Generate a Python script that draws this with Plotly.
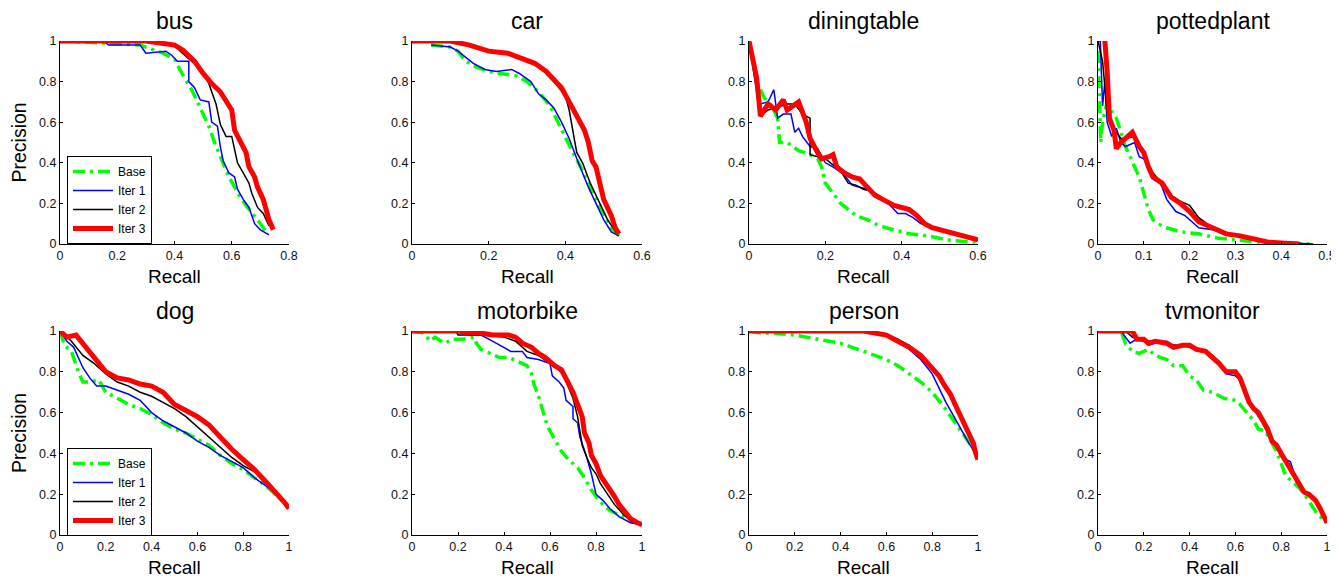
import plotly.graph_objects as go

W, H = 1339, 578
OFF = 8  # page body margin in the browser

classes = ["bus", "car", "diningtable", "pottedplant", "dog", "motorbike", "person", "tvmonitor"]
series_names = ["Base", "Iter 1", "Iter 2", "Iter 3"]
x_max = [0.8, 0.6, 0.6, 0.5, 1.0, 1.0, 1.0, 1.0]
x_dtick = [0.2, 0.2, 0.2, 0.1, 0.2, 0.2, 0.2, 0.2]
y_ticks = [0, 0.2, 0.4, 0.6, 0.8, 1]
y_ticklabels = ["0", "0.2", "0.4", "0.6", "0.8", "1"]

# ---- bus ----
bus_base_r = [0, 0.15, 0.28, 0.32, 0.36, 0.40, 0.43, 0.46, 0.49, 0.52, 0.54, 0.57, 0.59, 0.61, 0.63, 0.65, 0.68, 0.70, 0.72]
bus_base_p = [1, 0.99, 0.98, 0.96, 0.94, 0.91, 0.83, 0.76, 0.67, 0.58, 0.50, 0.40, 0.33, 0.28, 0.23, 0.19, 0.14, 0.10, 0.06]
bus_it1_r = [0, 0.15, 0.17, 0.28, 0.30, 0.37, 0.39, 0.41, 0.45, 0.45, 0.47, 0.49, 0.52, 0.53, 0.55, 0.56, 0.57, 0.59, 0.61, 0.62, 0.64, 0.66, 0.68, 0.70, 0.73]
bus_it1_p = [1, 1, 0.98, 0.98, 0.94, 0.95, 0.93, 0.90, 0.90, 0.80, 0.77, 0.71, 0.70, 0.60, 0.58, 0.48, 0.41, 0.35, 0.33, 0.27, 0.22, 0.18, 0.10, 0.07, 0.045]
bus_it2_r = [0, 0.28, 0.35, 0.40, 0.42, 0.46, 0.50, 0.52, 0.545, 0.56, 0.58, 0.60, 0.61, 0.62, 0.64, 0.66, 0.67, 0.69, 0.71, 0.73]
bus_it2_p = [1, 1, 0.99, 0.98, 0.95, 0.90, 0.85, 0.79, 0.69, 0.59, 0.53, 0.53, 0.46, 0.40, 0.35, 0.30, 0.25, 0.18, 0.15, 0.09]
bus_it3_r = [0, 0.30, 0.35, 0.40, 0.43, 0.47, 0.50, 0.53, 0.56, 0.58, 0.60, 0.61, 0.63, 0.65, 0.66, 0.68, 0.69, 0.71, 0.72, 0.73, 0.745]
bus_it3_p = [1, 1, 0.99, 0.98, 0.955, 0.90, 0.84, 0.79, 0.75, 0.71, 0.66, 0.56, 0.50, 0.45, 0.38, 0.33, 0.28, 0.22, 0.17, 0.12, 0.07]

# ---- car ----
car_base_r = [0.05, 0.10, 0.12, 0.14, 0.17, 0.20, 0.23, 0.27, 0.30, 0.33, 0.36, 0.38, 0.40, 0.42, 0.44, 0.46, 0.48, 0.50, 0.52, 0.54]
car_base_p = [0.98, 0.97, 0.95, 0.90, 0.87, 0.85, 0.84, 0.83, 0.80, 0.75, 0.68, 0.60, 0.52, 0.45, 0.38, 0.30, 0.22, 0.15, 0.08, 0.04]
car_it1_r = [0.05, 0.10, 0.12, 0.14, 0.16, 0.19, 0.22, 0.26, 0.28, 0.31, 0.33, 0.35, 0.37, 0.39, 0.41, 0.43, 0.445, 0.46, 0.48, 0.50, 0.52, 0.54]
car_it1_p = [0.98, 0.97, 0.95, 0.92, 0.89, 0.86, 0.85, 0.86, 0.84, 0.80, 0.74, 0.71, 0.67, 0.60, 0.52, 0.42, 0.35, 0.28, 0.20, 0.12, 0.06, 0.04]
car_it2_r = [0, 0.10, 0.15, 0.18, 0.20, 0.25, 0.28, 0.32, 0.35, 0.38, 0.40, 0.41, 0.415, 0.425, 0.43, 0.445, 0.455, 0.465, 0.49, 0.51, 0.535]
car_it2_p = [1, 1, 0.98, 0.96, 0.95, 0.94, 0.92, 0.89, 0.85, 0.78, 0.73, 0.66, 0.60, 0.50, 0.45, 0.40, 0.35, 0.30, 0.20, 0.12, 0.05]
car_it3_r = [0, 0.10, 0.15, 0.18, 0.20, 0.25, 0.28, 0.32, 0.35, 0.37, 0.39, 0.41, 0.43, 0.45, 0.46, 0.47, 0.48, 0.49, 0.50, 0.52, 0.53, 0.54]
car_it3_p = [1, 1, 0.98, 0.96, 0.95, 0.94, 0.92, 0.89, 0.85, 0.81, 0.77, 0.70, 0.63, 0.56, 0.50, 0.41, 0.38, 0.30, 0.22, 0.14, 0.08, 0.05]

# ---- diningtable ----
din_base_r = [0, 0.02, 0.04, 0.06, 0.075, 0.08, 0.10, 0.13, 0.16, 0.18, 0.19, 0.20, 0.22, 0.24, 0.26, 0.28, 0.31, 0.34, 0.38, 0.42, 0.47, 0.52, 0.58, 0.60]
din_base_p = [1, 0.80, 0.72, 0.68, 0.62, 0.50, 0.50, 0.46, 0.44, 0.42, 0.38, 0.30, 0.25, 0.20, 0.17, 0.14, 0.12, 0.09, 0.07, 0.05, 0.04, 0.02, 0.01, 0.01]
din_it1_r = [0, 0.02, 0.03, 0.05, 0.065, 0.075, 0.09, 0.11, 0.12, 0.13, 0.14, 0.16, 0.18, 0.20, 0.22, 0.25, 0.27, 0.29, 0.31, 0.34, 0.37, 0.39, 0.41, 0.43, 0.45, 0.48, 0.52, 0.56, 0.60]
din_it1_p = [1, 0.78, 0.69, 0.70, 0.76, 0.62, 0.64, 0.64, 0.55, 0.57, 0.53, 0.48, 0.47, 0.40, 0.38, 0.34, 0.29, 0.28, 0.27, 0.24, 0.19, 0.15, 0.15, 0.13, 0.10, 0.08, 0.06, 0.04, 0.02]
din_it2_r = [0, 0.02, 0.03, 0.05, 0.07, 0.10, 0.12, 0.14, 0.16, 0.16, 0.18, 0.20, 0.22, 0.24, 0.26, 0.28, 0.30, 0.32, 0.34, 0.37, 0.40, 0.43, 0.46, 0.50, 0.55, 0.60]
din_it2_p = [1, 0.75, 0.63, 0.66, 0.67, 0.69, 0.69, 0.64, 0.62, 0.44, 0.43, 0.42, 0.39, 0.36, 0.30, 0.29, 0.27, 0.26, 0.24, 0.20, 0.18, 0.15, 0.10, 0.07, 0.04, 0.02]
din_it3_r = [0, 0.02, 0.03, 0.05, 0.07, 0.09, 0.10, 0.12, 0.13, 0.15, 0.16, 0.18, 0.19, 0.21, 0.22, 0.23, 0.25, 0.27, 0.29, 0.31, 0.33, 0.36, 0.38, 0.40, 0.42, 0.44, 0.46, 0.48, 0.50, 0.53, 0.56, 0.60]
din_it3_p = [1, 0.82, 0.63, 0.69, 0.66, 0.71, 0.66, 0.69, 0.70, 0.60, 0.52, 0.45, 0.42, 0.43, 0.44, 0.38, 0.35, 0.33, 0.32, 0.28, 0.24, 0.21, 0.19, 0.18, 0.17, 0.14, 0.10, 0.08, 0.07, 0.05, 0.04, 0.02]

# ---- pottedplant ----
pot_base_r = [0, 0.003, 0.006, 0.01, 0.02, 0.03, 0.04, 0.05, 0.06, 0.07, 0.08, 0.09, 0.10, 0.11, 0.12, 0.13, 0.15, 0.18, 0.22, 0.26, 0.30, 0.35, 0.40, 0.47]
pot_base_p = [0.95, 0.70, 0.50, 0.60, 0.70, 0.65, 0.62, 0.55, 0.48, 0.43, 0.38, 0.33, 0.25, 0.17, 0.12, 0.10, 0.08, 0.06, 0.05, 0.03, 0.02, 0.01, 0.005, 0.0]
pot_it1_r = [0, 0.005, 0.01, 0.015, 0.02, 0.03, 0.04, 0.05, 0.06, 0.07, 0.08, 0.09, 0.10, 0.11, 0.13, 0.14, 0.15, 0.17, 0.19, 0.21, 0.22, 0.25, 0.28, 0.32, 0.36, 0.42, 0.47]
pot_it1_p = [1, 1, 0.68, 0.80, 0.60, 0.53, 0.57, 0.50, 0.48, 0.49, 0.50, 0.43, 0.42, 0.38, 0.32, 0.28, 0.22, 0.16, 0.14, 0.10, 0.08, 0.07, 0.05, 0.03, 0.01, 0.005, 0.0]
pot_it2_r = [0, 0.01, 0.02, 0.03, 0.04, 0.05, 0.06, 0.08, 0.09, 0.10, 0.12, 0.14, 0.16, 0.18, 0.20, 0.22, 0.25, 0.28, 0.32, 0.36, 0.42]
pot_it2_p = [1, 0.90, 0.65, 0.58, 0.55, 0.52, 0.52, 0.53, 0.50, 0.44, 0.35, 0.30, 0.24, 0.21, 0.19, 0.13, 0.08, 0.05, 0.03, 0.01, 0.0]
pot_it3_r = [0.01, 0.015, 0.02, 0.025, 0.035, 0.04, 0.05, 0.06, 0.075, 0.09, 0.10, 0.11, 0.12, 0.14, 0.15, 0.16, 0.18, 0.20, 0.22, 0.24, 0.26, 0.28, 0.31, 0.34, 0.37, 0.40, 0.44]
pot_it3_p = [1, 1, 0.85, 0.62, 0.56, 0.47, 0.50, 0.52, 0.55, 0.48, 0.45, 0.38, 0.33, 0.30, 0.27, 0.23, 0.20, 0.16, 0.11, 0.09, 0.07, 0.05, 0.04, 0.025, 0.01, 0.005, 0.0]

# ---- dog ----
dog_base_r = [0, 0.02, 0.05, 0.08, 0.10, 0.13, 0.17, 0.20, 0.25, 0.30, 0.35, 0.40, 0.45, 0.50, 0.55, 0.60, 0.65, 0.70, 0.75, 0.80, 0.85, 0.90, 0.95, 1.0]
dog_base_p = [1, 0.93, 0.90, 0.80, 0.75, 0.75, 0.76, 0.70, 0.67, 0.64, 0.62, 0.59, 0.55, 0.52, 0.50, 0.47, 0.44, 0.39, 0.35, 0.32, 0.28, 0.24, 0.19, 0.14]
dog_it1_r = [0, 0.03, 0.06, 0.10, 0.13, 0.16, 0.20, 0.25, 0.30, 0.35, 0.40, 0.45, 0.50, 0.55, 0.60, 0.65, 0.70, 0.75, 0.80, 0.85, 0.90, 0.95, 1.0]
dog_it1_p = [1, 0.95, 0.92, 0.82, 0.77, 0.73, 0.73, 0.71, 0.69, 0.66, 0.60, 0.56, 0.53, 0.50, 0.46, 0.43, 0.39, 0.36, 0.33, 0.28, 0.24, 0.20, 0.14]
dog_it2_r = [0, 0.05, 0.10, 0.15, 0.20, 0.25, 0.30, 0.35, 0.40, 0.45, 0.50, 0.55, 0.60, 0.65, 0.70, 0.75, 0.80, 0.85, 0.90, 0.95, 1.0]
dog_it2_p = [1, 0.95, 0.88, 0.84, 0.79, 0.75, 0.73, 0.70, 0.68, 0.65, 0.62, 0.58, 0.53, 0.48, 0.43, 0.38, 0.34, 0.31, 0.25, 0.20, 0.14]
dog_it3_r = [0, 0.03, 0.07, 0.10, 0.15, 0.20, 0.25, 0.30, 0.35, 0.40, 0.45, 0.50, 0.55, 0.60, 0.65, 0.70, 0.75, 0.80, 0.85, 0.90, 0.95, 0.98, 1.0]
dog_it3_p = [1, 0.97, 0.98, 0.94, 0.87, 0.80, 0.77, 0.76, 0.74, 0.73, 0.70, 0.64, 0.61, 0.58, 0.54, 0.48, 0.42, 0.37, 0.32, 0.26, 0.20, 0.16, 0.13]

# ---- motorbike ----
mot_base_r = [0, 0.05, 0.08, 0.10, 0.14, 0.18, 0.22, 0.27, 0.28, 0.30, 0.34, 0.38, 0.42, 0.46, 0.50, 0.52, 0.53, 0.55, 0.57, 0.59, 0.62, 0.65, 0.68, 0.72, 0.75, 0.78, 0.82, 0.86, 0.90, 0.95, 1.0]
mot_base_p = [1, 0.99, 0.95, 0.97, 0.94, 0.96, 0.96, 0.97, 0.94, 0.91, 0.89, 0.87, 0.87, 0.85, 0.83, 0.79, 0.74, 0.68, 0.60, 0.53, 0.47, 0.41, 0.37, 0.33, 0.28, 0.22, 0.16, 0.12, 0.10, 0.08, 0.05]
mot_it1_r = [0, 0.20, 0.25, 0.30, 0.35, 0.40, 0.43, 0.48, 0.50, 0.55, 0.60, 0.61, 0.64, 0.66, 0.67, 0.70, 0.70, 0.72, 0.73, 0.76, 0.78, 0.80, 0.83, 0.86, 0.90, 0.95, 1.0]
mot_it1_p = [1, 1, 0.98, 0.98, 0.95, 0.92, 0.90, 0.90, 0.87, 0.86, 0.84, 0.78, 0.75, 0.72, 0.66, 0.63, 0.57, 0.55, 0.48, 0.38, 0.30, 0.20, 0.17, 0.13, 0.09, 0.06, 0.05]
mot_it2_r = [0, 0.19, 0.20, 0.30, 0.40, 0.45, 0.50, 0.55, 0.60, 0.63, 0.66, 0.68, 0.70, 0.72, 0.73, 0.74, 0.76, 0.78, 0.80, 0.82, 0.85, 0.88, 0.92, 0.96, 1.0]
mot_it2_p = [1, 1, 0.98, 0.98, 0.97, 0.95, 0.90, 0.88, 0.84, 0.82, 0.78, 0.72, 0.67, 0.58, 0.50, 0.44, 0.38, 0.33, 0.30, 0.25, 0.20, 0.15, 0.10, 0.06, 0.05]
mot_it3_r = [0, 0.20, 0.25, 0.30, 0.35, 0.42, 0.45, 0.48, 0.52, 0.55, 0.58, 0.62, 0.65, 0.67, 0.69, 0.70, 0.72, 0.74, 0.75, 0.77, 0.78, 0.80, 0.82, 0.84, 0.86, 0.88, 0.90, 0.92, 0.95, 0.98, 1.0]
mot_it3_p = [1, 1, 0.99, 0.99, 0.98, 0.98, 0.97, 0.94, 0.92, 0.89, 0.87, 0.83, 0.81, 0.77, 0.73, 0.70, 0.64, 0.58, 0.50, 0.45, 0.39, 0.35, 0.29, 0.26, 0.22, 0.19, 0.15, 0.12, 0.08, 0.06, 0.05]

# ---- person ----
per_base_r = [0, 0.05, 0.10, 0.20, 0.30, 0.40, 0.45, 0.50, 0.55, 0.60, 0.65, 0.70, 0.75, 0.80, 0.85, 0.90, 0.95, 1.0]
per_base_p = [1, 0.99, 0.99, 0.98, 0.96, 0.94, 0.92, 0.90, 0.88, 0.86, 0.83, 0.79, 0.75, 0.70, 0.63, 0.55, 0.47, 0.39]
per_it1_r = [0, 0.50, 0.55, 0.60, 0.65, 0.70, 0.75, 0.80, 0.83, 0.86, 0.90, 0.93, 0.96, 1.0]
per_it1_p = [1, 1, 0.99, 0.98, 0.95, 0.91, 0.86, 0.79, 0.72, 0.65, 0.57, 0.51, 0.45, 0.38]
per_it2_r = [0, 0.50, 0.60, 0.65, 0.70, 0.75, 0.80, 0.85, 0.90, 0.95, 1.0]
per_it2_p = [1, 1, 0.98, 0.96, 0.93, 0.88, 0.82, 0.74, 0.64, 0.51, 0.38]
per_it3_r = [0, 0.50, 0.55, 0.60, 0.65, 0.70, 0.75, 0.80, 0.83, 0.85, 0.88, 0.90, 0.92, 0.94, 0.96, 0.98, 0.99, 1.0]
per_it3_p = [1, 1, 0.99, 0.98, 0.95, 0.92, 0.88, 0.82, 0.78, 0.74, 0.69, 0.64, 0.59, 0.54, 0.49, 0.45, 0.40, 0.37]

# ---- tvmonitor ----
tv_base_r = [0, 0.10, 0.12, 0.15, 0.18, 0.22, 0.25, 0.30, 0.33, 0.37, 0.40, 0.43, 0.46, 0.50, 0.55, 0.60, 0.62, 0.65, 0.68, 0.70, 0.73, 0.75, 0.78, 0.80, 0.82, 0.85, 0.88, 0.90, 0.93, 0.96, 1.0]
tv_base_p = [1, 1, 0.94, 0.90, 0.89, 0.91, 0.88, 0.86, 0.83, 0.83, 0.78, 0.76, 0.71, 0.70, 0.67, 0.66, 0.64, 0.60, 0.56, 0.52, 0.51, 0.47, 0.41, 0.35, 0.29, 0.26, 0.23, 0.20, 0.15, 0.10, 0.06]
tv_it1_r = [0, 0.10, 0.14, 0.17, 0.20, 0.22, 0.25, 0.30, 0.33, 0.37, 0.40, 0.43, 0.47, 0.50, 0.53, 0.56, 0.60, 0.62, 0.64, 0.66, 0.68, 0.70, 0.72, 0.74, 0.76, 0.78, 0.80, 0.82, 0.84, 0.86, 0.88, 0.90, 0.92, 0.95, 0.97, 1.0]
tv_it1_p = [1, 1, 0.94, 0.96, 0.95, 0.93, 0.94, 0.95, 0.93, 0.93, 0.92, 0.91, 0.90, 0.87, 0.84, 0.79, 0.78, 0.76, 0.70, 0.66, 0.62, 0.58, 0.55, 0.50, 0.47, 0.44, 0.40, 0.37, 0.36, 0.29, 0.24, 0.21, 0.20, 0.17, 0.12, 0.06]
tv_it2_r = [0, 0.12, 0.15, 0.17, 0.20, 0.25, 0.30, 0.33, 0.37, 0.40, 0.43, 0.47, 0.50, 0.53, 0.56, 0.60, 0.62, 0.64, 0.66, 0.68, 0.70, 0.72, 0.74, 0.76, 0.78, 0.80, 0.82, 0.84, 0.86, 0.88, 0.90, 0.92, 0.95, 0.97, 1.0]
tv_it2_p = [1, 1, 0.97, 0.96, 0.95, 0.95, 0.94, 0.93, 0.93, 0.93, 0.91, 0.90, 0.88, 0.85, 0.80, 0.79, 0.77, 0.71, 0.66, 0.62, 0.59, 0.55, 0.51, 0.46, 0.44, 0.40, 0.36, 0.34, 0.28, 0.24, 0.21, 0.20, 0.17, 0.13, 0.06]
tv_it3_r = [0, 0.15, 0.17, 0.20, 0.22, 0.25, 0.30, 0.33, 0.37, 0.40, 0.43, 0.47, 0.50, 0.53, 0.56, 0.60, 0.62, 0.64, 0.66, 0.68, 0.70, 0.72, 0.74, 0.76, 0.78, 0.80, 0.82, 0.84, 0.86, 0.88, 0.90, 0.92, 0.95, 0.97, 0.99, 1.0]
tv_it3_p = [1, 1, 0.96, 0.96, 0.94, 0.95, 0.94, 0.92, 0.93, 0.93, 0.91, 0.90, 0.87, 0.84, 0.80, 0.80, 0.77, 0.70, 0.65, 0.62, 0.60, 0.56, 0.52, 0.46, 0.44, 0.40, 0.36, 0.33, 0.28, 0.24, 0.21, 0.20, 0.17, 0.13, 0.09, 0.06]

panel_data = [
    [(bus_base_r, bus_base_p), (bus_it1_r, bus_it1_p), (bus_it2_r, bus_it2_p), (bus_it3_r, bus_it3_p)],
    [(car_base_r, car_base_p), (car_it1_r, car_it1_p), (car_it2_r, car_it2_p), (car_it3_r, car_it3_p)],
    [(din_base_r, din_base_p), (din_it1_r, din_it1_p), (din_it2_r, din_it2_p), (din_it3_r, din_it3_p)],
    [(pot_base_r, pot_base_p), (pot_it1_r, pot_it1_p), (pot_it2_r, pot_it2_p), (pot_it3_r, pot_it3_p)],
    [(dog_base_r, dog_base_p), (dog_it1_r, dog_it1_p), (dog_it2_r, dog_it2_p), (dog_it3_r, dog_it3_p)],
    [(mot_base_r, mot_base_p), (mot_it1_r, mot_it1_p), (mot_it2_r, mot_it2_p), (mot_it3_r, mot_it3_p)],
    [(per_base_r, per_base_p), (per_it1_r, per_it1_p), (per_it2_r, per_it2_p), (per_it3_r, per_it3_p)],
    [(tv_base_r, tv_base_p), (tv_it1_r, tv_it1_p), (tv_it2_r, tv_it2_p), (tv_it3_r, tv_it3_p)],
]

# styles
line_styles = [
    dict(color="#00ff00", width=3.5, dash="12px,5px,3px,5px"),
    dict(color="#0000ff", width=1.5),
    dict(color="#000000", width=1.5),
    dict(color="#ff0000", width=5),
]

# panel pixel boxes in page pixels (left, right) and rows (top, bottom)
col_px = [(60, 289), (412, 642), (749, 978), (1098, 1327)]
row_px = [(41, 244), (331, 535)]

FW, FH = W - OFF, H - OFF


def fx(px):
    return (px - OFF) / FW


def fy(py):
    return 1 - (py - OFF) / FH


FONT = "Liberation Sans, Arial, Helvetica, sans-serif"
TICK_FONT = dict(size=12.5, family=FONT, color="#111111")
fig = go.Figure()
layout = dict(
    template="none",
    width=FW, height=FH, margin=dict(l=0, r=0, t=0, b=0, pad=0, autoexpand=False),
    paper_bgcolor="white", plot_bgcolor="white",
    font=dict(family=FONT, color="black", size=12),
    annotations=[],
)

for i, name in enumerate(classes):
    row, col = divmod(i, 4)
    l, r = col_px[col]
    t, b = row_px[row]
    ax = "" if i == 0 else str(i + 1)
    xa = dict(
        domain=[fx(l), fx(r)], range=[0, x_max[i]], dtick=x_dtick[i], tick0=0,
        showline=True, linecolor="black", linewidth=1, mirror=False, automargin=False,
        ticks="inside", ticklen=3, tickcolor="black", showgrid=False, zeroline=False,
        anchor="y" + ax, tickfont=TICK_FONT, fixedrange=True,
    )
    ya = dict(
        domain=[fy(b), fy(t)], range=[0, 1], tickvals=y_ticks, ticktext=y_ticklabels,
        showline=True, linecolor="black", linewidth=1, mirror=False, automargin=False,
        ticks="inside", ticklen=3, tickcolor="black", showgrid=False, zeroline=False,
        anchor="x" + ax, tickfont=TICK_FONT, fixedrange=True,
    )
    layout["xaxis" + ax] = xa
    layout["yaxis" + ax] = ya

    legend_id = None
    if i == 0:
        legend_id = "legend"
    elif i == 4:
        legend_id = "legend2"
    for s, (rr, pp) in enumerate(panel_data[i]):
        fig.add_trace(go.Scatter(
            x=rr, y=pp, mode="lines", name=series_names[s], line=line_styles[s],
            xaxis="x" + ax, yaxis="y" + ax,
            showlegend=legend_id is not None, legend=legend_id if legend_id else "legend",
            hoverinfo="skip",
        ))

    cx = fx((l + r) / 2)
    layout["annotations"].append(dict(
        text=name, x=cx, y=fy(t - 20), xref="paper", yref="paper",
        xanchor="center", yanchor="middle", showarrow=False, font=dict(size=23, family=FONT)))
    layout["annotations"].append(dict(
        text="Recall", x=cx, y=fy(b + 32), xref="paper", yref="paper",
        xanchor="center", yanchor="middle", showarrow=False, font=dict(size=19, family=FONT)))
    if col == 0:
        layout["annotations"].append(dict(
            text="Precision", x=fx(19), y=fy((t + b) / 2), xref="paper", yref="paper",
            xanchor="center", yanchor="middle", textangle=-90, showarrow=False,
            font=dict(size=19.5, family=FONT)))

leg_common = dict(
    xanchor="left", yanchor="top", bgcolor="white", bordercolor="black", borderwidth=1,
    font=dict(size=12, family=FONT), tracegroupgap=0, itemwidth=40,
)
layout["legend"] = dict(x=fx(67), y=fy(156), **leg_common)
layout["legend2"] = dict(x=fx(67), y=fy(448), **leg_common)

fig.update_layout(**layout)
fig.write_html("out.html")
